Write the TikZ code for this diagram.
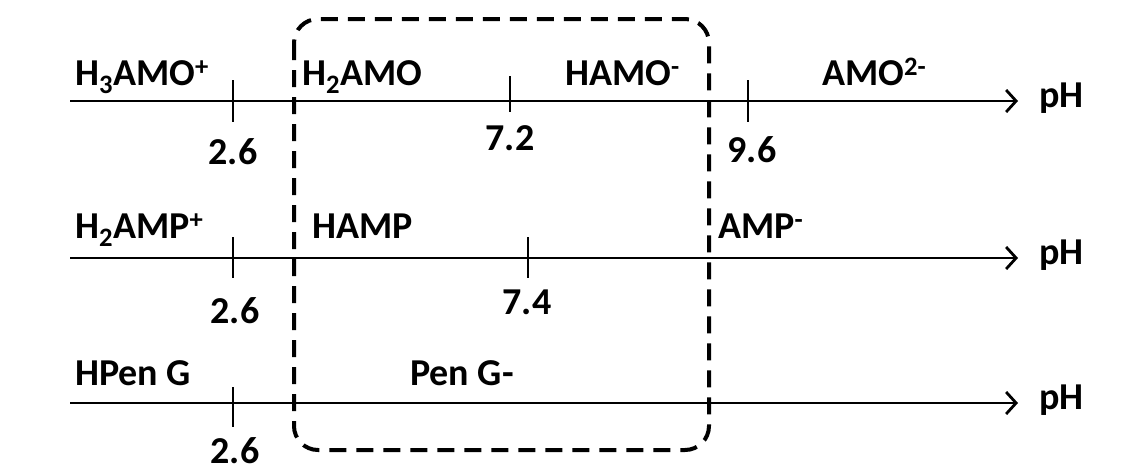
\documentclass[tikz,border=0pt]{standalone}
\usepackage{fontspec}
\setmainfont{Carlito}
\usetikzlibrary{arrows.meta}
\begin{document}
\begin{tikzpicture}[x=1pt,y=-1pt,
  axis/.style={line width=2.8pt,-{Straight Barb[length=10pt,width=22pt,line width=2.8pt]}},
  tickmark/.style={line width=2.6pt},
  lbl/.style={font=\fontsize{38}{42}\selectfont\bfseries, inner sep=0pt, anchor=base west},
  num/.style={font=\fontsize{38}{42}\selectfont\bfseries, inner sep=0pt},
  boxline/.style={line width=4pt, dash pattern=on 17pt off 10pt, rounded corners=24pt}]
\useasboundingbox (0,0) rectangle (1138,466);
% dashed box
\draw[boxline] (294,19) rectangle (709,450);
% axes
\foreach \n/\y in {1/101,2/258,3/403}{
  \coordinate (s\n) at (70,\y);
  \coordinate (e\n) at (1018,\y);
  \draw[axis] (s\n) -- (e\n);
  \node[lbl] (ph\n) at (1039,\y+6) {pH};
}
% ticks row 1
\draw[tickmark] (233,80) -- (233,122);
\draw[tickmark] (510,76) -- (510,112);
\draw[tickmark] (748,80) -- (748,122);
% ticks row 2
\draw[tickmark] (233,237) -- (233,278);
\draw[tickmark] (528,237) -- (528,278);
% ticks row 3
\draw[tickmark] (233,387) -- (233,427);
% labels row 1
\node[lbl] (h3amo) at (75,85) {H\textsubscript{3}AMO\textsuperscript{+}};
\node[lbl] (h2amo) at (302,85) {H\textsubscript{2}AMO};
\node[lbl] (hamo) at (565,85) {HAMO\textsuperscript{-}};
\node[lbl] (amo) at (822,85) {AMO\textsuperscript{2-}};
\node[num] (n1a) at (233,152) {2.6};
\node[num] (n1b) at (510,138) {7.2};
\node[num] (n1c) at (752,150) {9.6};
% labels row 2
\node[lbl] (h2amp) at (75,238) {H\textsubscript{2}AMP\textsuperscript{+}};
\node[lbl] (hamp) at (312,238) {HAMP};
\node[lbl] (amp) at (718,238) {AMP\textsuperscript{-}};
\node[num] (n2a) at (235,311) {2.6};
\node[num] (n2b) at (527,302) {7.4};
% labels row 3
\node[lbl] (hpen) at (75,385) {HPen G};
\node[lbl] (pen) at (410,385) {Pen G-};
\node[num] (n3a) at (235,451) {2.6};
\end{tikzpicture}
\end{document}
